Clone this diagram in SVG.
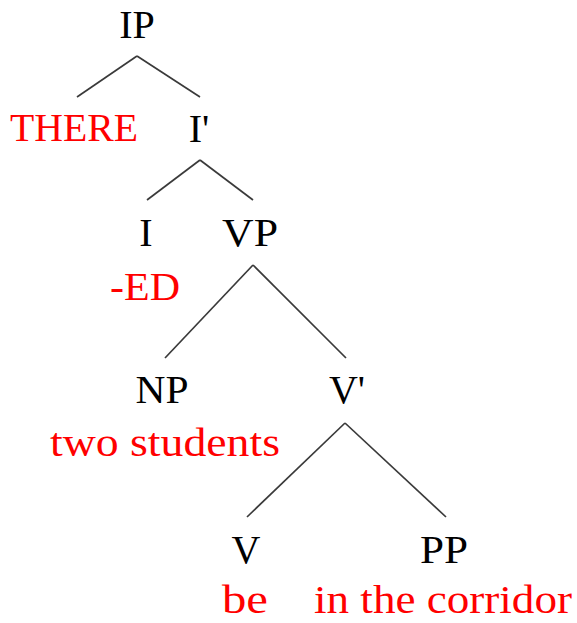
<svg xmlns="http://www.w3.org/2000/svg" width="577" height="623" viewBox="0 0 577 623">
<style>
text{font-family:"Liberation Serif","Times New Roman",serif;font-size:40px;text-anchor:middle}
.c{fill:#000}
.w{fill:#ff0000}
.e line{stroke:#3a3a3a;stroke-width:1.7;fill:none}
</style>
<rect width="577" height="623" fill="#fff"/>
<g id="connectors" class="e">
<line x1="137" y1="56" x2="77" y2="97"/>
<line x1="137" y1="56" x2="200" y2="97"/>
<line x1="200" y1="160" x2="147" y2="200"/>
<line x1="200" y1="160" x2="253" y2="200"/>
<line x1="253" y1="265" x2="165" y2="358"/>
<line x1="253" y1="265" x2="346" y2="358"/>
<line x1="345" y1="423" x2="247" y2="517"/>
<line x1="345" y1="423" x2="446" y2="517"/>
</g>
<g id="IP"><text class="c" x="137" y="38">IP</text></g>
<g id="THERE"><text class="w" x="74" y="141" textLength="128" lengthAdjust="spacingAndGlyphs">THERE</text></g>
<g id="Ibar"><text class="c" x="199" y="142">I'</text></g>
<g id="I"><text class="c" x="146" y="246">I</text></g>
<g id="ED"><text class="w" x="145" y="300" textLength="70" lengthAdjust="spacingAndGlyphs">-ED</text></g>
<g id="VP"><text class="c" x="250" y="246" textLength="56" lengthAdjust="spacingAndGlyphs">VP</text></g>
<g id="NP"><text class="c" x="162" y="403" textLength="53" lengthAdjust="spacingAndGlyphs">NP</text></g>
<g id="two-students"><text class="w" x="165" y="456" textLength="230" lengthAdjust="spacingAndGlyphs">two students</text></g>
<g id="Vbar"><text class="c" x="347" y="403">V'</text></g>
<g id="V"><text class="c" x="246" y="563">V</text></g>
<g id="PP"><text class="c" x="444" y="563" textLength="48" lengthAdjust="spacingAndGlyphs">PP</text></g>
<g id="be"><text class="w" x="245" y="613" textLength="46" lengthAdjust="spacingAndGlyphs">be</text></g>
<g id="corridor"><text class="w" x="443" y="613" textLength="258" lengthAdjust="spacingAndGlyphs">in the corridor</text></g>
</svg>
